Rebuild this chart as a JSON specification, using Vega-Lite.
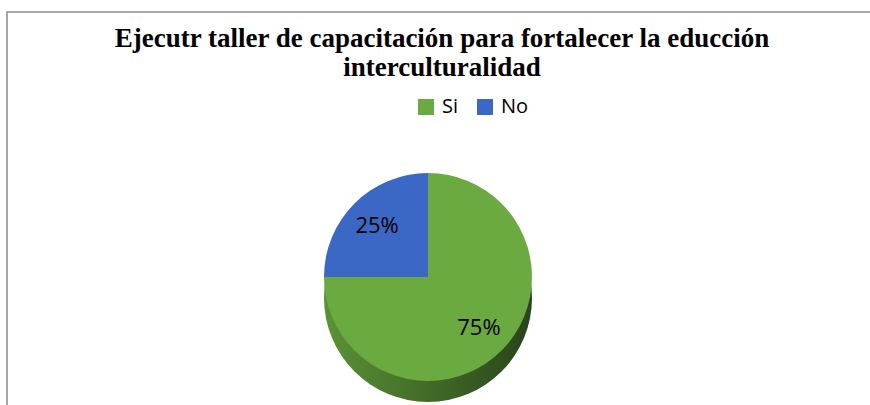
{
  "$schema": "https://vega.github.io/schema/vega-lite/v6.json",
  "width": 870,
  "height": 400,
  "autosize": "none",
  "padding": {"left": 7, "top": 12, "right": 0, "bottom": 0},
  "background": "white",
  "view": {"stroke": "#8c8c8c", "strokeWidth": 1.5},
  "title": {
    "text": ["Ejecutr taller de capacitación  para fortalecer la educción", "interculturalidad"],
    "font": "Liberation Serif",
    "fontSize": 27,
    "fontWeight": "bold",
    "color": "black",
    "anchor": "middle",
    "frame": "group",
    "offset": -70,
    "lineHeight": 29
  },
  "data": {
    "values": [
      {"respuesta": "Si", "porcentaje": 75, "etiqueta": "75%", "orden": 1},
      {"respuesta": "No", "porcentaje": 25, "etiqueta": "25%", "orden": 2}
    ]
  },
  "encoding": {
    "theta": {"field": "porcentaje", "type": "quantitative", "stack": true},
    "order": {"field": "orden", "type": "quantitative"}
  },
  "layer": [
    {
      "mark": {
        "type": "arc",
        "outerRadius": 104,
        "xOffset": -14,
        "yOffset": 86,
        "color": {"gradient": "linear", "x1": 0, "x2": 1, "y1": 0, "y2": 0, "stops": [{"offset": 0, "color": "#5b9236"}, {"offset": 1, "color": "#28441a"}]}
      }
    },
    {
      "mark": {"type": "arc", "outerRadius": 104, "xOffset": -14, "yOffset": 65},
      "encoding": {
        "color": {
          "field": "respuesta",
          "type": "nominal",
          "scale": {"domain": ["Si", "No"], "range": ["#6aaa40", "#3b68c5"]},
          "legend": {
            "orient": "none",
            "legendX": 409,
            "legendY": 85,
            "direction": "horizontal",
            "title": null,
            "symbolType": "square",
            "symbolSize": 256,
            "symbolStrokeWidth": 0,
            "labelFont": "Open Sans",
            "labelFontSize": 20,
            "labelColor": "black",
            "labelOffset": 6,
            "columnPadding": 16
          }
        }
      }
    },
    {
      "mark": {"type": "text", "radius": 72, "xOffset": -14, "yOffset": 65, "font": "Open Sans", "fontSize": 22, "color": "black"},
      "encoding": {"text": {"field": "etiqueta", "type": "nominal"}}
    }
  ]
}
